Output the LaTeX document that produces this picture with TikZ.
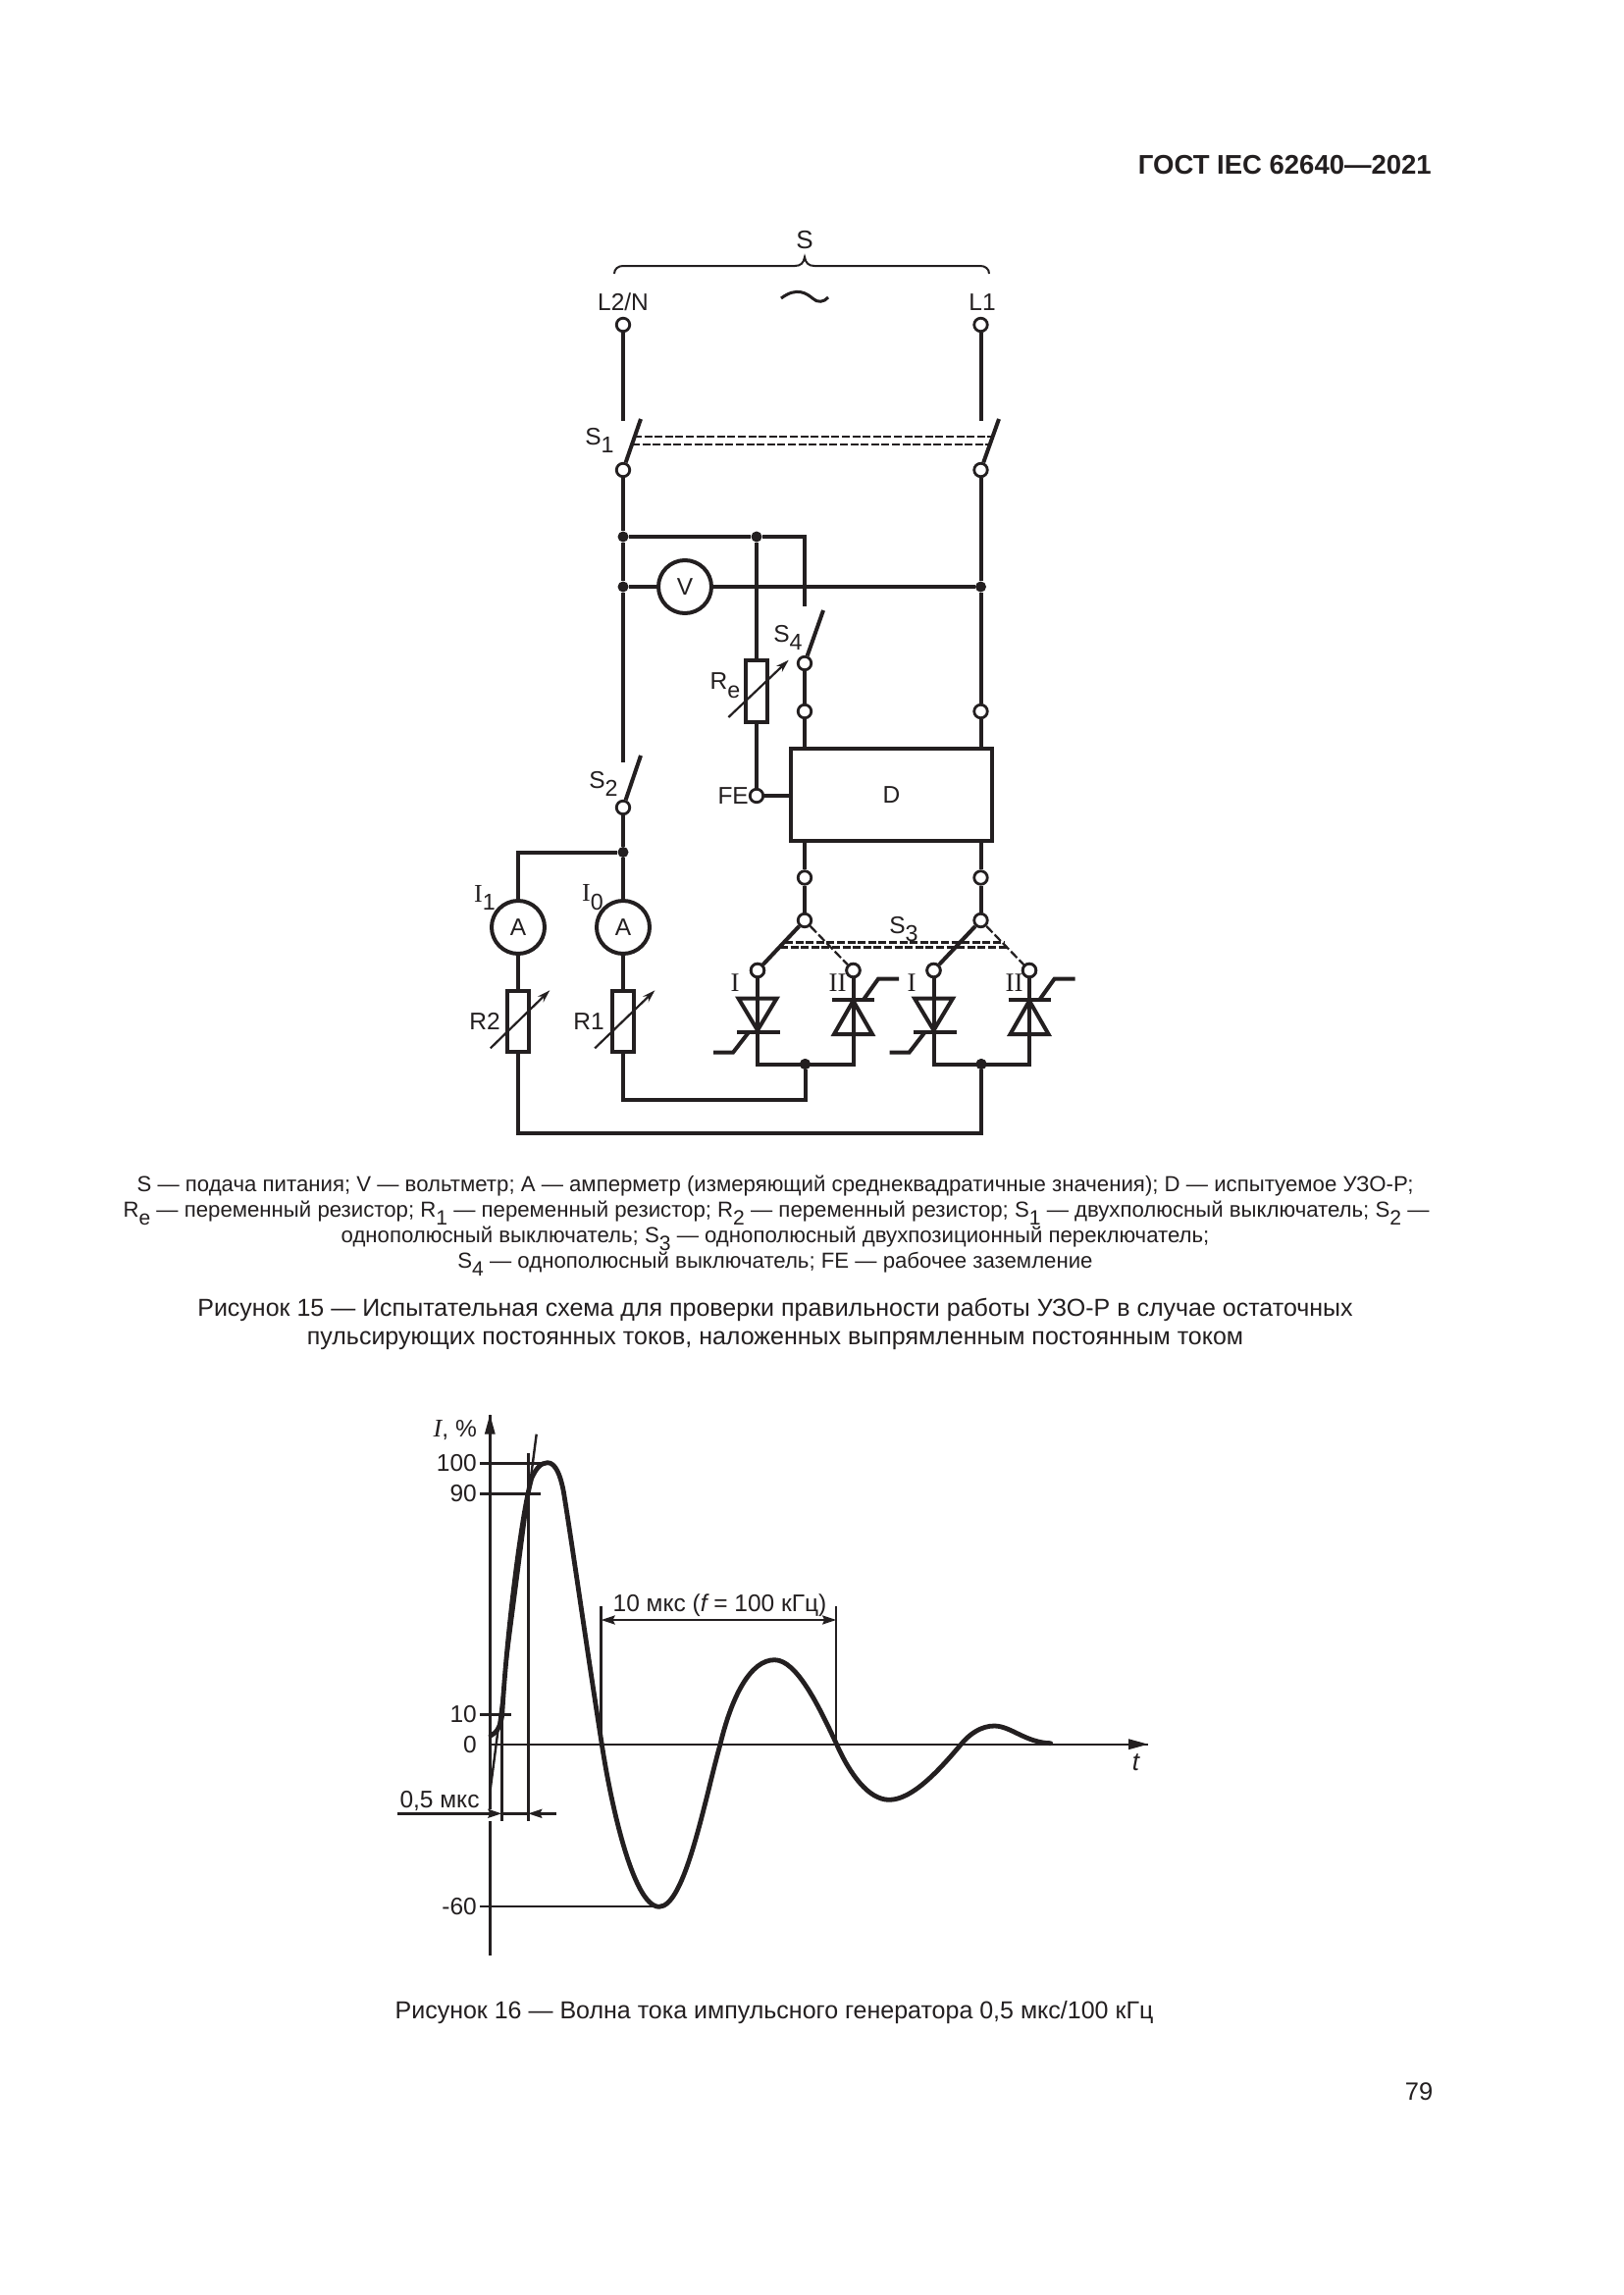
\documentclass[tikz,border=0pt]{standalone}
\usepackage{fontspec}
\usepackage{graphicx}
\setmainfont{Liberation Sans}
\newfontfamily\serifI{Liberation Serif}
\usetikzlibrary{arrows.meta,calc}
\newcommand\subs[1]{\raisebox{-.36em}{\scalebox{.95}{#1}}}
\newcommand\fs[1]{\fontsize{#1}{#1}\selectfont}
\definecolor{ink}{HTML}{231F20}
\tikzset{
  wire/.style={ink,line width=4pt},
  dashw/.style={ink,line width=2.2pt,dash pattern=on 8pt off 2.6pt},
  term/.style={circle,draw=ink,fill=white,line width=2.8pt,minimum size=13.5pt,inner sep=0pt},
  junc/.style={circle,fill=ink,minimum size=11pt,inner sep=0pt},
  meter/.style={circle,draw=ink,fill=white,line width=4pt,minimum size=54pt,inner sep=0pt,font=\fs{24.5},text=ink},
  resbox/.style={rectangle,draw=ink,fill=white,line width=3.8pt,inner sep=0pt,minimum width=22pt,minimum height=62pt},
  lbl/.style={inner sep=0pt,text=ink,font=\fs{24.5}},
  capt/.style={inner sep=0pt,text=ink,font=\fs{22.2},anchor=center},
  titl/.style={inner sep=0pt,text=ink,font=\fs{25},anchor=center},
  varrow/.style={ink,line width=2.2pt,-{Stealth[length=13pt,width=8pt]}},
  ax/.style={ink,line width=2.4pt},
  dimar/.style={ink,line width=2.4pt,-{Stealth[length=14pt,width=9pt,inset=2pt]}},
  curve/.style={ink,line width=4.8pt,line join=round,line cap=round},
}
\begin{document}
\begin{tikzpicture}[x=1pt,y=-1pt]
\useasboundingbox (0,0) rectangle (1654,2339);
\fill[white] (0,0) rectangle (1654,2339);

% ---------- page text
\node[lbl,font=\fs{27.5}\bfseries,anchor=east] (hdr) at (1459,168) {ГОСТ IEC 62640—2021};
\node[lbl,font=\fs{25.5},anchor=center] (pg) at (1446,2132) {79};

% ---------- circuit nodes
\node[lbl,font=\fs{26}] (ls) at (820,245) {S};
\node[lbl] (l2n) at (635,308) {L2/N};
\node[lbl] (l1) at (1001,308) {L1};
\node[term] (tl) at (635,331) {};
\node[term] (tr) at (999.5,331) {};
\coordinate (s1la) at (635,429);
\coordinate (s1ra) at (999.5,429);
\node[term] (s1l) at (635,479) {};
\node[term] (s1r) at (999.5,479) {};
\coordinate (s1lt) at (653,427);
\coordinate (s1rt) at (1018,427);
\node[lbl] (ls1) at (611,449) {S\subs{1}};
\node[junc] (j1) at (635,547) {};
\node[junc] (j2) at (771,547) {};
\coordinate (cc) at (820,547);
\coordinate (s4a) at (820,618);
\node[junc] (j3) at (635,598) {};
\node[junc] (j4) at (999.5,598) {};
\node[meter] (vm) at (698,598) {V};
\node[term] (s4) at (820,676) {};
\coordinate (s4t) at (839,622);
\node[lbl] (ls4) at (803,650) {S\subs{4}};
\node[term] (tup) at (820,725) {};
\node[term] (tupr) at (999.5,725) {};
\node[resbox,minimum height=63pt] (re) at (771,704.5) {};
\node[lbl] (lre) at (739,699) {R\subs{e}};
\node[term] (fe) at (771,811) {};
\node[lbl,anchor=east] (lfe) at (763,811) {FE};
\node[draw=ink,line width=4pt,minimum width=205pt,minimum height=94pt,inner sep=0pt,font=\fs{24.5},text=ink] (d) at (908.5,810) {D};
\node[term] (tdn) at (820,894.5) {};
\node[term] (tdnr) at (999.5,894.5) {};
\coordinate (s2a) at (635,777);
\node[term] (s2) at (635,823) {};
\coordinate (s2t) at (653,770);
\node[lbl] (ls2) at (615,799) {S\subs{2}};
\node[junc] (j5) at (635,868.5) {};
\coordinate (cl) at (528,868.5);
\node[meter] (a1) at (528,945) {A};
\node[meter] (a0) at (635,945) {A};
\node[lbl] (li1) at (494,915) {{\serifI\fs{26}I}\subs{1}};
\node[lbl] (li0) at (604,915) {{\serifI\fs{26}I}\subs{0}};
\node[resbox] (r2) at (528,1041) {};
\node[resbox] (r1) at (635,1041) {};
\node[lbl] (lr2) at (494,1041) {R2};
\node[lbl] (lr1) at (600,1041) {R1};
\node[term] (p1) at (820,938) {};
\node[term] (p2) at (999.5,938) {};
\node[term] (t1) at (772,989) {};
\node[term] (t2) at (869.5,989) {};
\node[term] (t3) at (951.5,989) {};
\node[term] (t4) at (1049,989) {};
\node[lbl] (ls3) at (921,947) {S\subs{3}};
\node[lbl,font=\serifI\fs{27}] (ri1) at (749,1002) {I};
\node[lbl,font=\serifI\fs{27}] (ri2) at (853.5,1002) {II};
\node[lbl,font=\serifI\fs{27}] (ri3) at (929,1002) {I};
\node[lbl,font=\serifI\fs{27}] (ri4) at (1033.5,1002) {II};
\node[junc] (j6) at (820.5,1084.5) {};
\node[junc] (j7) at (1000,1084.5) {};
\coordinate (b1) at (820.5,1120.5);
\coordinate (b2) at (1000,1155);

% ---------- supply brace
\draw[ink,line width=2pt] (626,279) .. controls (626,274) and (630,271) .. (635,271) -- (810,271) .. controls (816,271) and (819,268) .. (820,262) .. controls (821,268) and (824,271) .. (830,271) -- (999,271) .. controls (1004,271) and (1008,274) .. (1008,279);
\draw[ink,line width=3pt] (796,304) .. controls (812,292) and (822,299) .. (828,304) .. controls (833,309) and (840,308) .. (844,303);

% ---------- wires
\draw[wire] (tl) -- (s1la);
\draw[wire] (tr) -- (s1ra);
\draw[wire] (s1l) -- (s1lt);
\draw[wire] (s1r) -- (s1rt);
\draw[dashw] (646,445) -- (1012,445);
\draw[dashw] (644,453) -- (1010,453);
\draw[wire] (s1l) -- (j1);
\draw[wire] (s1r) -- (j4);
\draw[wire] (j1) -- (j3);
\draw[wire] (j1) -- (j2);
\draw[wire,line join=miter] (j2) -- (cc) -- (s4a);
\draw[wire] (j3) -- (vm);
\draw[wire] (vm) -- (j4);
\draw[wire] (j2) -- (re);
\draw[wire] (s4) -- (s4t);
\draw[wire] (s4) -- (tup);
\draw[wire] (j3) -- (s2a);
\draw[wire] (s2) -- (s2t);
\draw[wire] (j4) -- (tupr);
\draw[wire] (tup) -- (tup |- d.north);
\draw[wire] (tupr) -- (tupr |- d.north);
\draw[wire] (re) -- (fe);
\draw[wire] (fe) -- (d.west |- fe);
\draw[wire] (tdn |- d.south) -- (tdn);
\draw[wire] (tdnr |- d.south) -- (tdnr);
\draw[wire] (s2) -- (j5);
\draw[wire,line join=miter] (j5) -- (cl) -- (a1);
\draw[wire] (j5) -- (a0);
\draw[wire] (a1) -- (r2);
\draw[wire] (a0) -- (r1);
\draw[wire] (tdn) -- (p1);
\draw[wire] (tdnr) -- (p2);
\draw[wire] (p1) -- (t1);
\draw[wire] (p2) -- (t3);
\draw[ink,line width=2.2pt,dash pattern=on 9pt off 3pt] (p1) -- (t2);
\draw[ink,line width=2.2pt,dash pattern=on 9pt off 3pt] (p2) -- (t4);
\draw[dashw] (800,960.5) -- (1023,960.5);
\draw[dashw] (795,965.5) -- (1027,965.5);

% variable resistor arrows
\draw[varrow] (742.4,731) -- (803.7,672.7);
\draw[varrow] (499.8,1068.3) -- (560.3,1009.3);
\draw[varrow] (606.2,1068.3) -- (667.4,1009.3);

% thyristors
\foreach \dx in {0,179.5}{
  \draw[wire,line join=miter] (772+\dx,989) -- ++(0,95.5) -- ++(97.5,0) -- ++(0,-95.5);
  \draw[wire,line join=miter] (752.5+\dx,1017.5) -- (791.5+\dx,1017.5) -- (772+\dx,1050) -- cycle;
  \draw[wire] (751+\dx,1052) -- (795+\dx,1052);
  \draw[wire] (727+\dx,1072.7) -- (747+\dx,1072.7) -- (763+\dx,1052);
  \draw[wire] (848+\dx,1018.7) -- (891+\dx,1018.7);
  \draw[wire,line join=miter] (850+\dx,1054) -- (889+\dx,1054) -- (869.5+\dx,1020) -- cycle;
  \draw[wire] (880+\dx,1018.7) -- (895+\dx,997.7) -- (916+\dx,997.7);
}
\node[term] at (t1) {};
\node[term] at (t2) {};
\node[term] at (t3) {};
\node[term] at (t4) {};
\draw[wire,line join=miter] (j6) -- (b1) -- (b1 -| r1) -- (r1);
\draw[wire,line join=miter] (j7) -- (b2) -- (b2 -| r2) -- (r2);
\node[junc] at (j6) {};
\node[junc] at (j7) {};

% ---------- captions
\node[capt] (c1) at (790,1209) {S — подача питания; V — вольтметр; A — амперметр (измеряющий среднеквадратичные значения); D — испытуемое УЗО-Р;};
\node[capt] (c2) at (791,1236) {R\subs{e} — переменный резистор; R\subs{1} — переменный резистор; R\subs{2} — переменный резистор; S\subs{1} — двухполюсный выключатель; S\subs{2} —};
\node[capt] (c3) at (790,1262) {однополюсный выключатель; S\subs{3} — однополюсный двухпозиционный переключатель;};
\node[capt] (c4) at (790,1288) {S\subs{4} — однополюсный выключатель; FE — рабочее заземление};
\node[titl] (t15a) at (790,1335) {Рисунок 15 — Испытательная схема для проверки правильности работы УЗО-Р в случае остаточных};
\node[titl] (t15b) at (790,1366) {пульсирующих постоянных токов, наложенных выпрямленным постоянным током};

% ---------- graph
\coordinate (ytop) at (499.3,1441.7);
\coordinate (ybot) at (499.3,1993.3);
\coordinate (xo) at (499.3,1777.7);
\coordinate (xend) at (1170,1777.7);
\node[lbl,anchor=east] (y100) at (486,1491.5) {100};
\node[lbl,anchor=east] (y90) at (486,1522.5) {90};
\node[lbl,anchor=east] (y10) at (486,1747.5) {10};
\node[lbl,anchor=east] (y0) at (486,1778) {0};
\node[lbl,anchor=east] (y60) at (486,1943) {-60};
\node[lbl,anchor=east] (yl) at (486,1458) {{\serifI\itshape\fs{26}I}, \%};
\node[lbl,font=\fs{26}\itshape] (tl2) at (1157.5,1796) {t};
\draw[ax] (499.3,1843.5) -- (ytop);
\draw[ax] (ybot) -- (499.3,1855.5);
\fill[ink] (ytop) -- ++(5.5,20) -- ++(-11,0) -- cycle;
\draw[ax] (xo) -- (xend);
\fill[ink] (xend) -- ++(-20,-5.5) -- ++(0,11) -- cycle;
\draw[ax] (489.3,1491.5) -- (556.7,1491.5);
\draw[ax] (489.3,1522.5) -- (551,1522.5);
\draw[ax] (489.3,1747.5) -- (521.3,1747.5);
\draw[ax] (489.3,1943) -- (671.7,1943);
\draw[ax] (538.3,1480.7) -- (538.3,1856);
\draw[ax] (511.3,1745) -- (511.3,1856);
\draw[ax] (499.3,1826.7) -- (546.7,1461.7);
\draw[ax] (612.6,1637.3) -- (612.6,1777.7);
\draw[ax] (852.2,1637.3) -- (852.2,1777.7);
\draw[curve] (500,1769) .. controls (506,1766) and (510,1760) .. (511.7,1748)
 .. controls (516,1670) and (531,1545) .. (541.7,1506.7)
 .. controls (546,1497) and (551,1490.7) .. (558,1490.7)
 .. controls (566,1490.7) and (571,1503) .. (574.3,1520)
 .. controls (584,1580) and (598,1680) .. (613.3,1777.7)
 .. controls (622,1835) and (645,1943.3) .. (671.7,1943.3)
 .. controls (698,1943.3) and (718,1835) .. (734,1777.7)
 .. controls (746,1728) and (765,1691.7) .. (789.4,1691.7)
 .. controls (812,1691.7) and (835,1740) .. (852.6,1777.7)
 .. controls (866,1808) and (885,1834.3) .. (906.2,1834.3)
 .. controls (930,1834.3) and (958,1803) .. (978.9,1778.3)
 .. controls (988,1767) and (1000,1759) .. (1013.3,1759)
 .. controls (1030,1759) and (1045,1776) .. (1070.7,1776.7);
% dimensions
\node[lbl] (d05) at (448,1835) {0,5 мкс};
\draw[dimar] (405,1848.3) -- (511.3,1848.3);
\draw[ax] (511.3,1848.3) -- (538.3,1848.3);
\draw[dimar] (566.7,1848.3) -- (538.3,1848.3);
\node[lbl] (d10) at (733.5,1636) {10 мкс ({\itshape f} = 100 кГц)};
\draw[dimar] (732,1651) -- (612.6,1651);
\draw[dimar] (732,1651) -- (852.2,1651);
\node[titl] (t16) at (789,2051) {Рисунок 16 — Волна тока импульсного генератора 0,5 мкс/100 кГц};
\end{tikzpicture}
\end{document}
